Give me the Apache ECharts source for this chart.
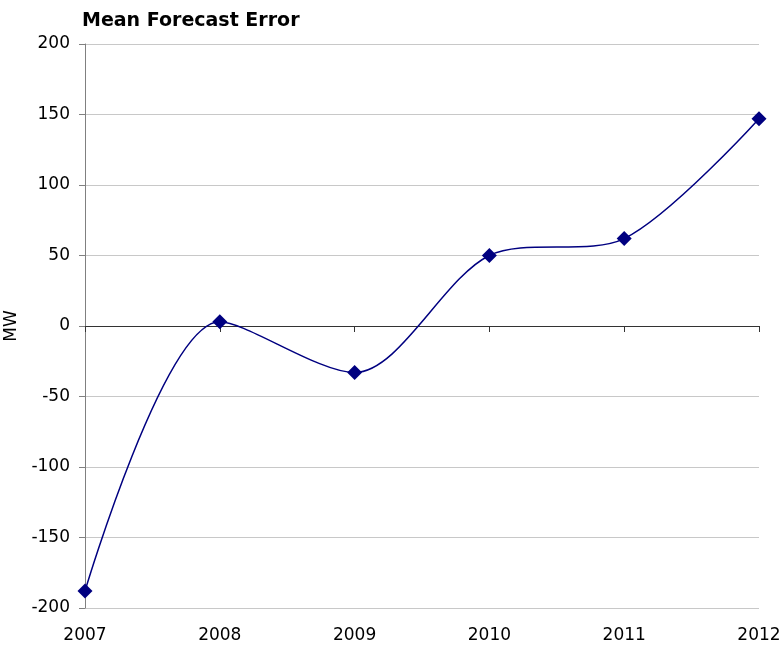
<!DOCTYPE html>
<html><head><meta charset="utf-8">
<script src="https://cdn.jsdelivr.net/npm/echarts@6/dist/echarts.min.js"></script>
<style>html,body{margin:0;padding:0;background:#fff}#c{width:783px;height:648px}</style>
</head><body><div id="c"></div>
<script>
const years = ['2007','2008','2009','2010','2011','2012'];
const errorMW = [-188, 3, -33, 50, 62, 147];
const yTicks = {min: -200, max: 200, interval: 50};

const chart = echarts.init(document.getElementById('c'));
const font = 'DejaVu Sans, sans-serif';
chart.setOption({
  animation: false,
  title: {text: 'Mean Forecast Error', left: 77, top: 7,
    textStyle: {fontFamily: font, fontSize: 19, fontWeight: 'bold', color: '#000'}},
  grid: {left: 85, right: 24, top: 44, bottom: 40, containLabel: false, outerBoundsMode: 'none'},
  xAxis: [{
    type: 'category', data: years, boundaryGap: false, position: 'bottom',
    axisLine: {show: false, onZero: false}, axisTick: {show: false},
    axisLabel: {fontFamily: font, fontSize: 17, color: '#000', margin: 19}
  }, {
    type: 'category', data: years, boundaryGap: false, position: 'top',
    axisLine: {show: true, onZero: true, lineStyle: {color: '#333', width: 1}},
    axisTick: {show: true, inside: true, length: 6, lineStyle: {color: '#333'}},
    axisLabel: {show: false}
  }],
  yAxis: {
    type: 'value', min: yTicks.min, max: yTicks.max, interval: yTicks.interval,
    name: 'MW', nameLocation: 'middle', nameGap: 56, nameRotate: 90,
    nameTextStyle: {fontFamily: font, fontSize: 17, color: '#000'},
    axisLine: {show: true, lineStyle: {color: '#808080'}},
    axisTick: {show: true, length: 6, lineStyle: {color: '#808080'}},
    axisLabel: {fontFamily: font, fontSize: 17, color: '#000', margin: 15},
    splitLine: {show: true, lineStyle: {color: '#c8c8c8', width: 1}}
  },
  series: [{
    type: 'line', data: errorMW, smooth: 0.3, xAxisIndex: 0,
    symbol: 'diamond', symbolSize: 15,
    lineStyle: {color: '#000080', width: 1.5},
    itemStyle: {color: '#000080'}
  }]
});
</script></body></html>
